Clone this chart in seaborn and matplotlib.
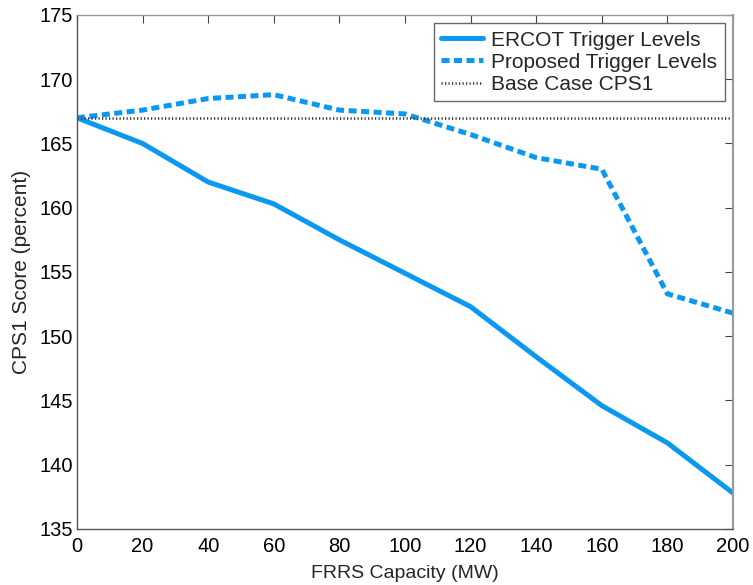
import matplotlib
matplotlib.use("Agg")
import matplotlib.pyplot as plt
import seaborn as sns
import pandas as pd

# FRRS capacity (MW)
capacity = [0, 20, 40, 60, 80, 100, 120, 140, 160, 180, 200]
# CPS1 score (percent) for each trigger-level scheme
ercot_levels = [167.0, 165.0, 162.0, 160.3, 157.5, 154.9, 152.3, 148.4, 144.6, 141.7, 137.8]
proposed_levels = [167.0, 167.6, 168.5, 168.8, 167.6, 167.3, 165.7, 163.9, 163.0, 153.3, 151.8]
base_case = [167.0] * len(capacity)

x_ticks = [0, 20, 40, 60, 80, 100, 120, 140, 160, 180, 200]
y_ticks = [135, 140, 145, 150, 155, 160, 165, 170, 175]

df = pd.DataFrame({
    "capacity": capacity,
    "ercot": ercot_levels,
    "proposed": proposed_levels,
    "base": base_case,
})

sns.set_style("white")
plt.rcParams["font.family"] = ["Liberation Sans", "DejaVu Sans"]

blue = "#0A98F0"
fig = plt.figure(figsize=(7.53, 5.85), dpi=100)
ax = fig.add_axes([77 / 753, 1 - 529 / 585, (733 - 77) / 753, (529 - 15) / 585])

sns.lineplot(data=df, x="capacity", y="ercot", ax=ax, color=blue, lw=3.6,
             label="ERCOT Trigger Levels")
sns.lineplot(data=df, x="capacity", y="proposed", ax=ax, color=blue, lw=3.6,
             linestyle=(0, (1.6, 0.9)), label="Proposed Trigger Levels")
sns.lineplot(data=df, x="capacity", y="base", ax=ax, color="#333333", lw=1.8,
             linestyle=(0, (0.5, 0.9)), label="Base Case CPS1")

ax.set_xlim(0, 200)
ax.set_ylim(135, 175)
ax.set_xticks(x_ticks)
ax.set_yticks(y_ticks)
ax.tick_params(direction="in", length=6, width=0.8, colors="#444444",
               labelcolor="black", labelsize=14.5, top=True, right=True)
ax.tick_params(axis="x", pad=6)
ax.tick_params(axis="y", pad=3)
for s in ax.spines.values():
    s.set_color("#555555")
    s.set_linewidth(1.0)
ax.spines["right"].set_color("#999999")
ax.spines["top"].set_color("#999999")
ax.spines["right"].set_linewidth(1.5)

ax.set_xlabel("FRRS Capacity (MW)", fontsize=14, labelpad=6)
ax.set_ylabel("CPS1 Score (percent)", fontsize=15, labelpad=6)

leg = ax.legend(loc="upper right", fontsize=15, frameon=True, fancybox=False,
                handlelength=2.0, handletextpad=0.4, borderpad=0.35,
                labelspacing=0.15, borderaxespad=0.4)
leg.get_frame().set_edgecolor("#444444")
leg.get_frame().set_linewidth(1.0)

fig.savefig("out.png", dpi=100)
